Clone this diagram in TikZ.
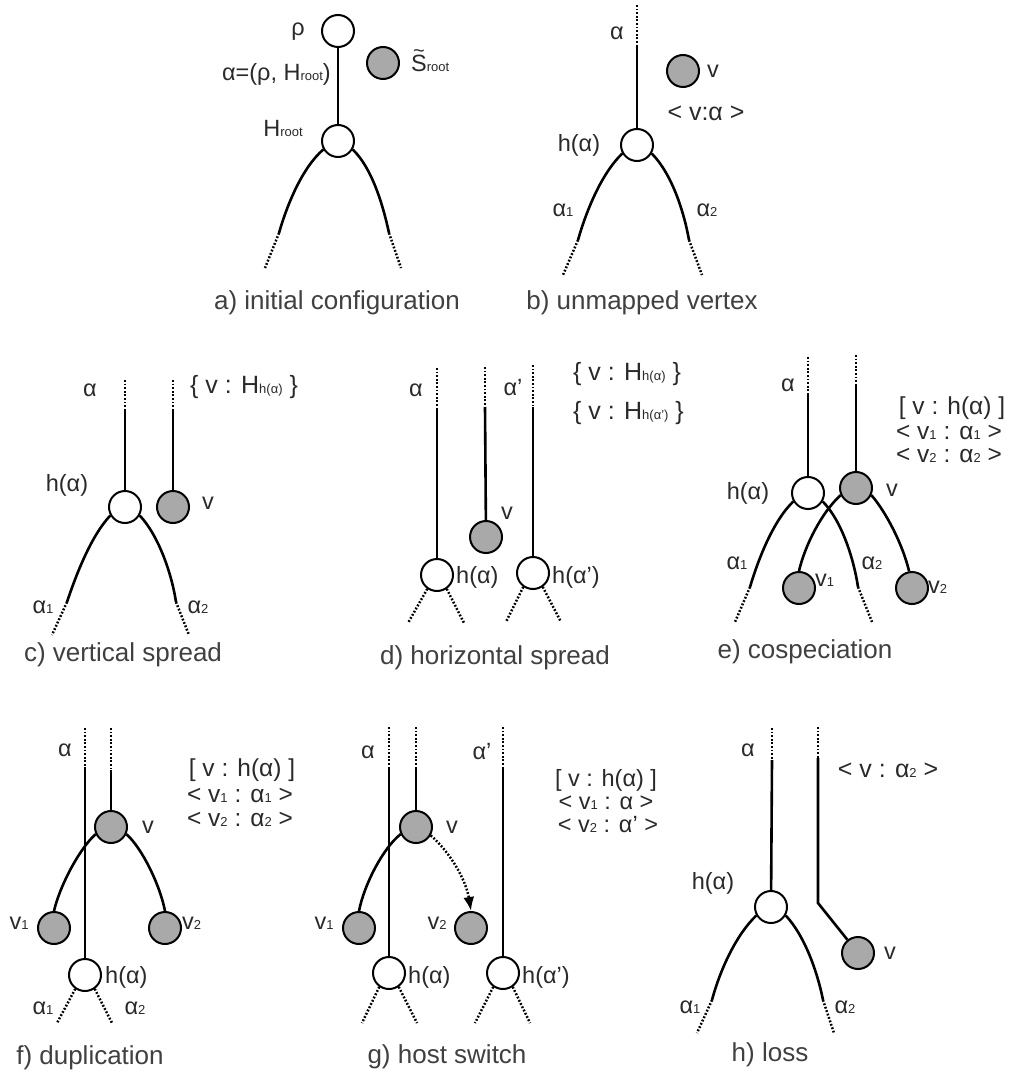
\documentclass[tikz,border=0pt]{standalone}
\usepackage{fontspec}
\setmainfont{Liberation Sans}
\usetikzlibrary{arrows.meta}
\newcommand\sbx[1]{{\fontsize{13}{13}\selectfont #1}}
\newcommand\stil{\ooalign{S\cr\hidewidth\raisebox{0.58em}{\fontsize{20}{20}\selectfont\textasciitilde}\hidewidth\cr}}
\definecolor{pgray}{HTML}{A9A9A9}
\definecolor{txt}{HTML}{2A2A2A}
\definecolor{captxt}{HTML}{404040}
\tikzset{
  hostn/.style={circle,draw=black,fill=white,line width=2pt,minimum size=32pt,inner sep=0pt},
  parn/.style={circle,draw=black,fill=pgray,line width=2pt,minimum size=32pt,inner sep=0pt},
  edge/.style={line width=2.6pt,black},
  dots/.style={line width=2.5pt,black,dash pattern=on 1.8pt off 1.8pt},
  lbl/.style={inner sep=0pt,text=txt,font=\fontsize{23.5}{23.5}\selectfont},
  blbl/.style={inner sep=0pt,text=txt,font=\fontsize{25}{25}\selectfont},
  rlbl/.style={inner sep=0pt,text=txt,font=\fontsize{24.5}{24.5}\selectfont},
  glbl/.style={inner sep=0pt,text=txt,font=\fontsize{23.5}{23.5}\selectfont},
  captn/.style={inner sep=0pt,text=captxt,font=\fontsize{26}{26}\selectfont},
  arr/.style={line width=2.5pt,black,dash pattern=on 1.8pt off 1.8pt,-{Latex[length=14pt,width=11pt]}}
}
\begin{document}
\begin{tikzpicture}[x=1pt,y=-1pt]
\useasboundingbox[fill=white] (0,0) rectangle (1016,1075);

% ---------- a) initial configuration ----------
\node[hostn] (a-rho) at (338,31) {};
\node[hostn] (a-h) at (338,141) {};
\node[parn] (a-s) at (383,63) {};
\draw[edge] (a-rho) -- (a-h);
\coordinate (a-l) at (279,233); \coordinate (a-ld) at (265,268);
\coordinate (a-r) at (389,233); \coordinate (a-rd) at (401,268);
\draw[edge] (a-h.210) .. controls (302,168) and (287,205) .. (a-l);
\draw[dots] (a-l) -- (a-ld);
\draw[edge] (a-h.-30) .. controls (372,168) and (383,205) .. (a-r);
\draw[dots] (a-r) -- (a-rd);
\node[lbl] (a-rhol) at (298,32) {ρ};
\node[lbl,anchor=east] (a-al) at (331,74) {α=(ρ, H\sbx{root})};
\node[lbl] (a-hl) at (283,128) {H\sbx{root}};
\node[lbl,anchor=west] (a-sl) at (411,63) {\stil\sbx{root}};
\node[captn] (a-cap) at (337,303) {a) initial configuration};

% ---------- b) unmapped vertex ----------
\node[hostn] (b-h) at (637,145) {};
\node[parn] (b-v) at (683,71) {};
\coordinate (b-t) at (637,5); \coordinate (b-m) at (637,45);
\draw[dots] (b-t) -- (b-m);
\draw[edge] (b-m) -- (b-h);
\coordinate (b-l) at (578,240); \coordinate (b-ld) at (563,275);
\coordinate (b-r) at (689,240); \coordinate (b-rd) at (702,275);
\draw[edge] (b-h.210) .. controls (601,174) and (586,212) .. (b-l);
\draw[dots] (b-l) -- (b-ld);
\draw[edge] (b-h.-30) .. controls (672,174) and (684,212) .. (b-r);
\draw[dots] (b-r) -- (b-rd);
\node[lbl] (b-al) at (617,33) {α};
\node[lbl] (b-vl) at (713,71) {v};
\node[blbl] (b-ml) at (706,113) {< v:α >};
\node[lbl] (b-hl) at (579,145) {h(α)};
\node[lbl] (b-a1) at (563,210) {α\sbx{1}};
\node[lbl] (b-a2) at (707,210) {α\sbx{2}};
\node[captn] (b-cap) at (642,303) {b) unmapped vertex};

% ---------- c) vertical spread ----------
\node[hostn] (c-h) at (125,507) {};
\node[parn] (c-v) at (173,507) {};
\coordinate (c-at) at (125,380); \coordinate (c-am) at (125,410);
\coordinate (c-vt) at (173,380); \coordinate (c-vm) at (173,410);
\draw[dots] (c-at) -- (c-am); \draw[edge] (c-am) -- (c-h);
\draw[dots] (c-vt) -- (c-vm); \draw[edge] (c-vm) -- (c-v);
\coordinate (c-l) at (67,602); \coordinate (c-ld) at (52,635);
\coordinate (c-r) at (176,602); \coordinate (c-rd) at (189,635);
\draw[edge] (c-h.210) .. controls (91,536) and (76,575) .. (c-l);
\draw[dots] (c-l) -- (c-ld);
\draw[edge] (c-h.-30) .. controls (159,536) and (172,575) .. (c-r);
\draw[dots] (c-r) -- (c-rd);
\node[lbl] (c-al) at (90,390) {α};
\node[lbl] (c-hl) at (67,485) {h(α)};
\node[lbl] (c-vl) at (208,503) {v};
\node[blbl,anchor=west] (c-ml) at (190,387) {\{ v : H\sbx{h(α)} \}};
\node[lbl] (c-a1) at (43,607) {α\sbx{1}};
\node[lbl] (c-a2) at (198,607) {α\sbx{2}};
\node[captn] (c-cap) at (123,655) {c) vertical spread};

% ---------- d) horizontal spread ----------
\node[hostn] (d-h) at (437,575) {};
\node[parn] (d-v) at (486,537) {};
\node[hostn] (d-h2) at (533,573) {};
\coordinate (d-at) at (437,368); \coordinate (d-am) at (437,408);
\coordinate (d-vt) at (485,367); \coordinate (d-vm) at (485,407);
\coordinate (d-bt) at (533,365); \coordinate (d-bm) at (533,407);
\draw[dots] (d-at) -- (d-am); \draw[edge] (d-am) -- (d-h);
\draw[dots] (d-vt) -- (d-vm); \draw[edge] (d-vm) -- (d-v);
\draw[dots] (d-bt) -- (d-bm); \draw[edge] (d-bm) -- (d-h2);
\coordinate (d-l1) at (408,623); \coordinate (d-r1) at (464,623);
\coordinate (d-l2) at (506,622); \coordinate (d-r2) at (561,622);
\draw[dots] (d-h.235) -- (d-l1);
\draw[dots] (d-h.-55) -- (d-r1);
\draw[dots] (d-h2.235) -- (d-l2);
\draw[dots] (d-h2.-55) -- (d-r2);
\node[lbl] (d-al) at (416,390) {α};
\node[lbl] (d-bl) at (513,388) {α’};
\node[lbl] (d-vl) at (507,513) {v};
\node[lbl,anchor=west] (d-hl) at (456,577) {h(α)};
\node[lbl,anchor=west] (d-h2l) at (552,577) {h(α’)};
\node[blbl,anchor=west] (d-m1) at (573,374) {\{ v : H\sbx{h(α)} \}};
\node[blbl,anchor=west] (d-m2) at (573,413) {\{ v : H\sbx{h(α’)} \}};
\node[captn] (d-cap) at (495,658) {d) horizontal spread};

% ---------- e) cospeciation ----------
\node[hostn] (e-h) at (808,493) {};
\node[parn] (e-v) at (856,488) {};
\node[parn] (e-v1) at (799,588) {};
\node[parn] (e-v2) at (912,588) {};
\coordinate (e-at) at (808,357); \coordinate (e-am) at (808,393);
\coordinate (e-vt) at (856,355); \coordinate (e-vm) at (856,385);
\draw[dots] (e-at) -- (e-am); \draw[edge] (e-am) -- (e-h);
\draw[dots] (e-vt) -- (e-vm); \draw[edge] (e-vm) -- (e-v);
\coordinate (e-l) at (750,587); \coordinate (e-ld) at (735,622);
\coordinate (e-r) at (858,587); \coordinate (e-rd) at (872,622);
\draw[edge] (e-h.210) .. controls (773,521) and (758,560) .. (e-l);
\draw[dots] (e-l) -- (e-ld);
\draw[edge] (e-h.-30) .. controls (842,521) and (854,560) .. (e-r);
\draw[dots] (e-r) -- (e-rd);
\draw[edge] (e-v.205) .. controls (822,512) and (805,545) .. (e-v1.north);
\draw[edge] (e-v.-25) .. controls (886,512) and (903,545) .. (e-v2.100);
\node[lbl] (e-al) at (788,385) {α};
\node[lbl] (e-hl) at (748,493) {h(α)};
\node[lbl] (e-vl) at (892,490) {v};
\node[lbl,anchor=west] (e-v1l) at (815,580) {v\sbx{1}};
\node[lbl,anchor=west] (e-v2l) at (928,587) {v\sbx{2}};
\node[lbl] (e-a1) at (737,563) {α\sbx{1}};
\node[lbl] (e-a2) at (872,563) {α\sbx{2}};
\node[rlbl] (e-m1) at (952,408) {[ v : h(α) ]};
\node[rlbl] (e-m2) at (949,432) {< v\sbx{1} : α\sbx{1} >};
\node[rlbl] (e-m3) at (949,455) {< v\sbx{2} : α\sbx{2} >};
\node[captn] (e-cap) at (805,652) {e) cospeciation};

% ---------- f) duplication ----------
\node[hostn] (f-h) at (85,975) {};
\node[parn] (f-v) at (111,827) {};
\node[parn] (f-v1) at (54,928) {};
\node[parn] (f-v2) at (165,928) {};
\coordinate (f-at) at (85,728); \coordinate (f-am) at (85,767);
\coordinate (f-vt) at (111,728); \coordinate (f-vm) at (111,770);
\draw[edge] (f-v.205) .. controls (80,848) and (60,885) .. (f-v1.north);
\draw[edge] (f-v.-25) .. controls (142,848) and (160,885) .. (f-v2.north);
\draw[dots] (f-at) -- (f-am); \draw[edge] (f-am) -- (f-h);
\draw[dots] (f-vt) -- (f-vm); \draw[edge] (f-vm) -- (f-v);
\coordinate (f-l) at (57,1023); \coordinate (f-r) at (112,1023);
\draw[dots] (f-h.235) -- (f-l);
\draw[dots] (f-h.-55) -- (f-r);
\node[lbl] (f-al) at (65,750) {α};
\node[lbl] (f-vl) at (148,827) {v};
\node[lbl] (f-v1l) at (19,923) {v\sbx{1}};
\node[lbl,anchor=west] (f-v2l) at (182,923) {v\sbx{2}};
\node[lbl,anchor=west] (f-hl) at (105,977) {h(α)};
\node[lbl] (f-a1) at (43,1008) {α\sbx{1}};
\node[lbl] (f-a2) at (135,1008) {α\sbx{2}};
\node[rlbl] (f-m1) at (242,770) {[ v : h(α) ]};
\node[rlbl] (f-m2) at (240,795) {< v\sbx{1} : α\sbx{1} >};
\node[rlbl] (f-m3) at (240,819) {< v\sbx{2} : α\sbx{2} >};
\node[captn] (f-cap) at (90,1058) {f) duplication};

% ---------- g) host switch ----------
\node[hostn] (g-h) at (389,973) {};
\node[parn] (g-v) at (416,827) {};
\node[parn] (g-v1) at (359,928) {};
\node[parn] (g-v2) at (471,928) {};
\node[hostn] (g-h2) at (503,973) {};
\coordinate (g-at) at (389,727); \coordinate (g-am) at (389,767);
\coordinate (g-vt) at (416,727); \coordinate (g-vm) at (416,767);
\coordinate (g-bt) at (503,727); \coordinate (g-bm) at (503,767);
\draw[edge] (g-v.205) .. controls (383,848) and (364,885) .. (g-v1.north);
\draw[arr] (g-v.-30) .. controls (450,852) and (466,880) .. (g-v2.north);
\draw[dots] (g-at) -- (g-am); \draw[edge] (g-am) -- (g-h);
\draw[dots] (g-vt) -- (g-vm); \draw[edge] (g-vm) -- (g-v);
\draw[dots] (g-bt) -- (g-bm); \draw[edge] (g-bm) -- (g-h2);
\coordinate (g-l1) at (362,1023); \coordinate (g-r1) at (417,1023);
\coordinate (g-l2) at (475,1023); \coordinate (g-r2) at (530,1023);
\draw[dots] (g-h.235) -- (g-l1);
\draw[dots] (g-h.-55) -- (g-r1);
\draw[dots] (g-h2.235) -- (g-l2);
\draw[dots] (g-h2.-55) -- (g-r2);
\node[lbl] (g-al) at (368,752) {α};
\node[lbl] (g-bl) at (482,752) {α’};
\node[lbl] (g-vl) at (452,827) {v};
\node[lbl] (g-v1l) at (324,923) {v\sbx{1}};
\node[lbl] (g-v2l) at (437,923) {v\sbx{2}};
\node[lbl,anchor=west] (g-hl) at (408,977) {h(α)};
\node[lbl,anchor=west] (g-h2l) at (522,977) {h(α’)};
\node[glbl] (g-m1) at (606,780) {[ v : h(α) ]};
\node[glbl] (g-m2) at (606,803) {< v\sbx{1} : α >};
\node[glbl] (g-m3) at (608,825) {< v\sbx{2} : α’ >};
\node[captn] (g-cap) at (447,1057) {g) host switch};

% ---------- h) loss ----------
\node[hostn] (h-h) at (771,907) {};
\node[parn] (h-v) at (858,953) {};
\coordinate (h-at) at (772,728); \coordinate (h-am) at (772,760);
\coordinate (h-vt) at (818,727); \coordinate (h-vm) at (818,758);
\coordinate (h-bend) at (818,903);
\draw[dots] (h-at) -- (h-am); \draw[edge] (h-am) -- (h-h);
\draw[dots] (h-vt) -- (h-vm); \draw[edge] (h-vm) -- (h-bend) -- (h-v);
\coordinate (h-l) at (712,1000); \coordinate (h-ld) at (697,1033);
\coordinate (h-r) at (823,1000); \coordinate (h-rd) at (834,1033);
\draw[edge] (h-h.210) .. controls (736,935) and (720,970) .. (h-l);
\draw[dots] (h-l) -- (h-ld);
\draw[edge] (h-h.-30) .. controls (804,935) and (817,970) .. (h-r);
\draw[dots] (h-r) -- (h-rd);
\node[lbl] (h-al) at (748,750) {α};
\node[blbl] (h-ml) at (888,770) {< v : α\sbx{2} >};
\node[lbl] (h-hl) at (713,883) {h(α)};
\node[lbl] (h-vl) at (890,953) {v};
\node[lbl] (h-a1) at (690,1007) {α\sbx{1}};
\node[lbl] (h-a2) at (845,1007) {α\sbx{2}};
\node[captn] (h-cap) at (770,1055) {h) loss};
\end{tikzpicture}
\end{document}
